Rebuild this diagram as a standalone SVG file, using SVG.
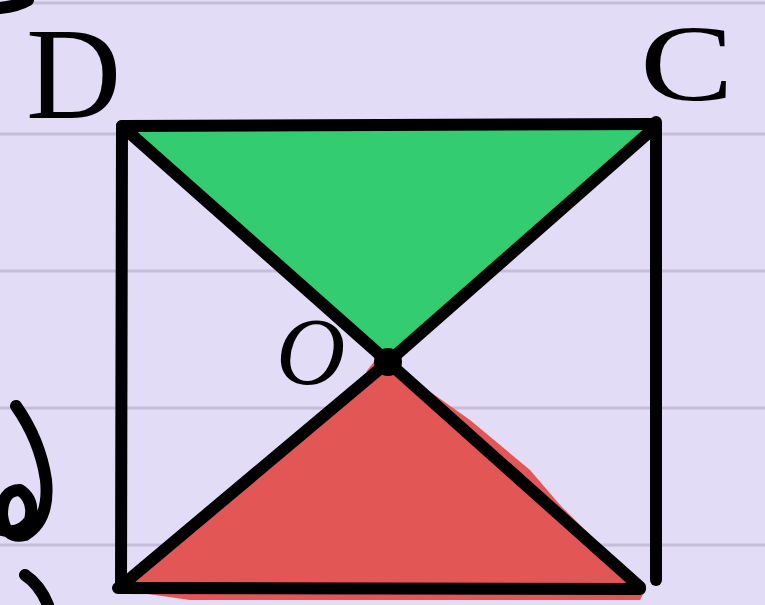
<svg xmlns="http://www.w3.org/2000/svg" width="765" height="605" viewBox="0 0 765 605">
<style>
.rule{stroke:#c5bdd9;stroke-width:3}
.ink{stroke:#000;stroke-width:12;stroke-linecap:round;stroke-linejoin:round;fill:none}
.lbl{font-family:"Liberation Serif","DejaVu Serif",serif;fill:#000}
</style>
<rect width="765" height="605" fill="#e2dcf6"/>
<g id="paper">
<line class="rule" x1="0" y1="3" x2="765" y2="3"/>
<line class="rule" x1="0" y1="134" x2="765" y2="134"/>
<line class="rule" x1="0" y1="271" x2="765" y2="271"/>
<line class="rule" x1="0" y1="408" x2="765" y2="408"/>
<line class="rule" x1="0" y1="545" x2="765" y2="545"/>
</g>
<g id="fills">
<polygon points="124,126 655,126 388,360" fill="#34cc70"/>
<polygon points="388,362 470,420 530,470 560,505 645,590 640,600 190,600 120,590" fill="#e25656"/>
<path d="M366,372 L380,354 L390,365 Z" fill="#e25656"/>
</g>
<g id="connectors">
<path class="ink" d="M122,126 L656,124"/>
<path class="ink" d="M656,122 L656,580"/>
<path class="ink" d="M122,126 L121,587"/>
<path class="ink" d="M118,588 L640,589"/>
<path class="ink" d="M124,128 L388,362 L640,587"/>
<path class="ink" d="M654,128 L388,362 L120,587"/>
<circle cx="388" cy="362" r="14" fill="#000"/>
</g>
<g id="D"><text class="lbl" x="26" y="118" font-size="132">D</text></g>
<g id="C"><text class="lbl" x="0" y="100" font-size="108" transform="translate(640,0) scale(1.3,1)">C</text></g>
<g id="O"><text class="lbl" x="276" y="384" font-size="96" font-style="italic">O</text></g>
<g id="marks">
<path class="ink" d="M0,8 Q18,6 28,0"/>
<path class="ink" d="M16,406 Q40,440 46,480 Q50,520 25,535 Q5,540 2,515 Q2,490 20,490 Q35,500 30,520 Q20,535 2,530"/>
<path class="ink" d="M25,575 Q40,585 48,605"/>
</g>
</svg>
